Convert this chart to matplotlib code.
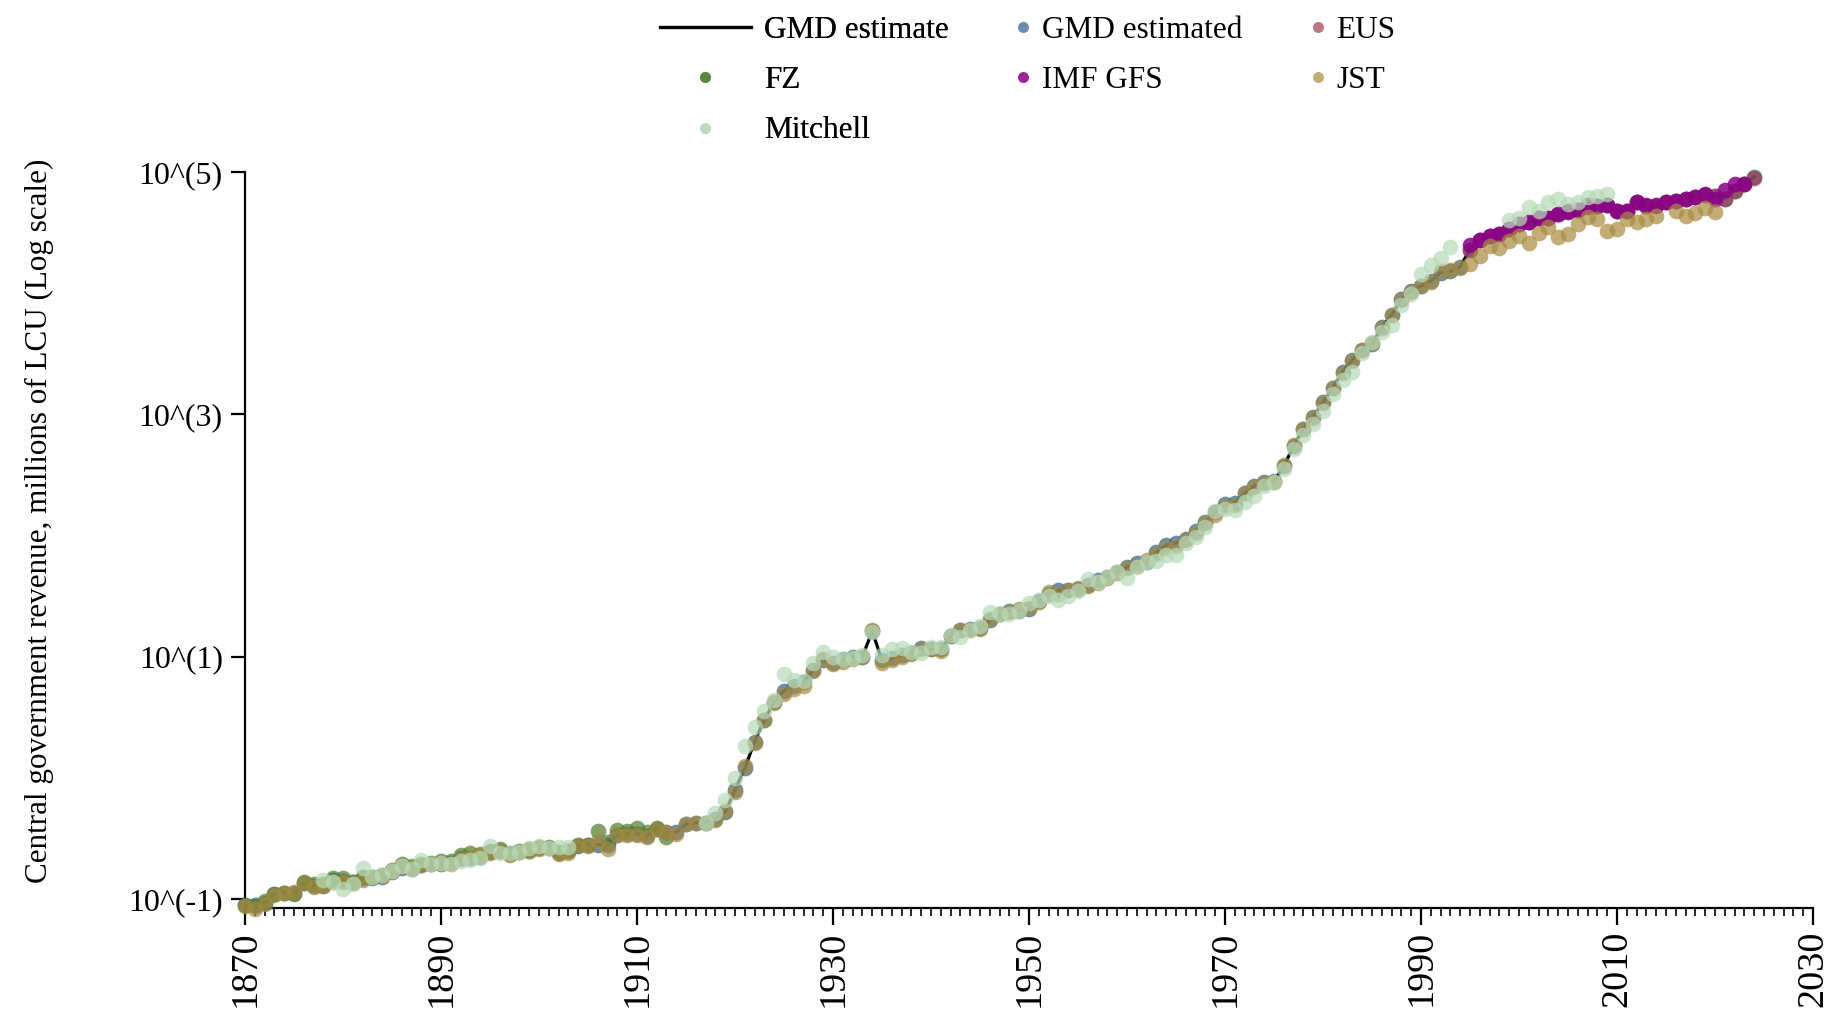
import numpy as np
import matplotlib
matplotlib.use('Agg')
import matplotlib.pyplot as plt
from matplotlib.ticker import MultipleLocator, NullLocator

plt.rcParams['font.family'] = ['Liberation Serif', 'DejaVu Serif']

# values are log10(millions of LCU)
years = list(range(1870, 2025))
gmd_log10 = [
    -1.05, -1.05, -1.03, -0.96, -0.95, -0.95, -0.87, -0.89, -0.89, -0.84,
    -0.85, -0.86, -0.83, -0.83, -0.82, -0.78, -0.74, -0.75, -0.72, -0.71,
    -0.71, -0.70, -0.66, -0.66, -0.65, -0.61, -0.60, -0.63, -0.61, -0.60,
    -0.58, -0.58, -0.62, -0.60, -0.56, -0.55, -0.55, -0.55, -0.47, -0.46,
    -0.46, -0.48, -0.42, -0.45, -0.45, -0.38, -0.37, -0.37, -0.34, -0.28,
    -0.10, 0.08, 0.30, 0.48, 0.63, 0.72, 0.76, 0.79, 0.89, 0.97,
    0.95, 0.98, 1.00, 1.00, 1.21, 0.97, 0.99, 1.01, 1.03, 1.07,
    1.06, 1.06, 1.17, 1.22, 1.23, 1.24, 1.30, 1.35, 1.38, 1.38,
    1.39, 1.46, 1.52, 1.55, 1.55, 1.56, 1.59, 1.63, 1.66, 1.70,
    1.74, 1.77, 1.78, 1.86, 1.92, 1.94, 1.97, 2.04, 2.11, 2.19,
    2.26, 2.27, 2.35, 2.41, 2.44, 2.45, 2.57, 2.74, 2.88, 2.98,
    3.10, 3.22, 3.35, 3.45, 3.53, 3.58, 3.72, 3.82, 3.95, 4.02,
    4.06, 4.10, 4.17, 4.18, 4.22, 4.36, 4.44, 4.47, 4.49, 4.53,
    4.57, 4.59, 4.62, 4.62, 4.65, 4.68, 4.69, 4.73, 4.72, 4.73,
    4.68, 4.68, 4.75, 4.72, 4.73, 4.75, 4.76, 4.78, 4.79, 4.81,
    4.80, 4.78, 4.84, 4.90, 4.96,
]

# GMD estimated points sit on the estimate line
gmd_est_years = years
gmd_est_log10 = gmd_log10

eus_years = list(range(1995, 2025))
eus_log10 = [
    4.36, 4.44, 4.47, 4.49, 4.53, 4.57, 4.59, 4.62, 4.62, 4.65,
    4.68, 4.69, 4.73, 4.72, 4.73, 4.68, 4.68, 4.75, 4.72, 4.73,
    4.75, 4.76, 4.78, 4.79, 4.81, 4.80, 4.78, 4.84, 4.90, 4.95,
]

fz_years = list(range(1870, 1914))
fz_log10 = [
    -1.05, -1.06, -1.02, -0.96, -0.95, -0.96, -0.86, -0.88, -0.88, -0.83,
    -0.83, -0.86, -0.82, -0.82, -0.80, -0.76, -0.71, -0.73, -0.71, -0.70,
    -0.69, -0.69, -0.64, -0.62, -0.63, -0.60, -0.59, -0.62, -0.60, -0.59,
    -0.57, -0.57, -0.61, -0.60, -0.55, -0.55, -0.44, -0.53, -0.43, -0.44,
    -0.41, -0.45, -0.41, -0.49,
]

imf_years = list(range(1995, 2024))
imf_log10 = [
    4.40, 4.44, 4.47, 4.49, 4.53, 4.57, 4.59, 4.62, 4.62, 4.65,
    4.67, 4.69, 4.71, 4.72, 4.73, 4.68, 4.68, 4.75, 4.73, 4.72,
    4.75, 4.76, 4.78, 4.79, 4.82, 4.78, 4.85, 4.90, 4.90,
]

jst_years = list(range(1870, 2021))
jst_log10 = [
    -1.06, -1.08, -1.04, -0.97, -0.95, -0.94, -0.87, -0.90, -0.89, -0.86,
    -0.86, -0.87, -0.84, -0.82, -0.81, -0.77, -0.73, -0.74, -0.72, -0.71,
    -0.70, -0.71, -0.67, -0.65, -0.64, -0.62, -0.60, -0.64, -0.61, -0.60,
    -0.59, -0.58, -0.63, -0.62, -0.55, -0.56, -0.52, -0.59, -0.47, -0.47,
    -0.47, -0.49, -0.42, -0.45, -0.46, -0.38, -0.37, -0.37, -0.35, -0.27,
    -0.12, 0.10, 0.29, 0.48, 0.62, 0.69, 0.73, 0.76, 0.88, 0.98,
    0.94, 0.96, 0.98, 1.00, 1.22, 0.95, 0.97, 1.00, 1.02, 1.06,
    1.06, 1.05, 1.17, 1.22, 1.22, 1.23, 1.31, 1.35, 1.37, 1.39,
    1.40, 1.45, 1.53, 1.52, 1.55, 1.57, 1.58, 1.61, 1.65, 1.69,
    1.73, 1.75, 1.80, 1.85, 1.90, 1.91, 1.96, 2.02, 2.10, 2.17,
    2.24, 2.25, 2.35, 2.40, 2.43, 2.44, 2.58, 2.75, 2.88, 2.97,
    3.09, 3.22, 3.34, 3.44, 3.53, 3.59, 3.71, 3.82, 3.94, 4.01,
    4.06, 4.09, 4.18, 4.19, 4.21, 4.24, 4.31, 4.39, 4.37, 4.43,
    4.47, 4.41, 4.50, 4.55, 4.46, 4.49, 4.57, 4.63, 4.61, 4.51,
    4.53, 4.61, 4.59, 4.61, 4.64, np.nan, 4.68, 4.64, 4.66, 4.70,
    4.67,
]

mitchell_years = list(range(1878, 1904)) + list(range(1917, 1994)) + list(range(1999, 2010))
mitchell_log10 = [
    -0.84, -0.86, -0.92, -0.88, -0.74, -0.82, -0.80, -0.77, -0.73, -0.75,
    -0.68, -0.71, -0.70, -0.71, -0.69, -0.68, -0.66, -0.56, -0.62, -0.62,
    -0.61, -0.58, -0.56, -0.58, -0.57, -0.57,
    -0.37, -0.29, -0.18, 0.00, 0.26, 0.42, 0.55, 0.64, 0.86, 0.81,
    0.80, 0.95, 1.04, 1.00, 0.98, 0.99, 1.01, 1.20, 1.01, 1.06,
    1.07, 1.04, 1.03, 1.08, 1.08, 1.18, 1.16, 1.22, 1.25, 1.37,
    1.35, 1.35, 1.38, 1.44, 1.47, 1.50, 1.47, 1.50, 1.54, 1.64,
    1.62, 1.66, 1.70, 1.65, 1.74, 1.78, 1.79, 1.84, 1.84, 1.94,
    1.99, 2.07, 2.20, 2.22, 2.21, 2.28, 2.33, 2.41, 2.44, 2.55,
    2.71, 2.83, 2.92, 3.03, 3.17, 3.28, 3.35, 3.51, 3.60, 3.68,
    3.74, 3.90, 3.99, 4.16, 4.23, 4.29, 4.38,
    4.60, 4.62, 4.71, 4.68, 4.75, 4.78, 4.74, 4.75, 4.79, 4.80, 4.82,
]

ytick_vals = [0.1, 10, 1000, 100000]
ytick_labels = ['10^(-1)', '10^(1)', '10^(3)', '10^(5)']
xtick_vals = list(range(1870, 2031, 20))

W, H = 1837, 1014
fig = plt.figure(figsize=(W / 100, H / 100), dpi=100)
ax = fig.add_axes([245 / W, 1 - 908 / H, 1568 / W, 736 / H])

line, = ax.plot(years, 10 ** np.array(gmd_log10), color='black', lw=2.3, zorder=2)

ms = 11.3
series = [
    ('GMD estimated', gmd_est_years, gmd_est_log10, '#2c6390', 0.72),
    ('EUS', eus_years, eus_log10, '#a23b4a', 0.7),
    ('FZ', fz_years, fz_log10, '#4d7a2c', 0.7),
    ('IMF GFS', imf_years, imf_log10, '#8a0088', 0.85),
    ('JST', jst_years, jst_log10, '#a88b40', 0.7),
    ('Mitchell', mitchell_years, mitchell_log10, '#b7dab9', 0.72),
]
handles = {}
for name, xs, ys, col, a in series:
    h, = ax.plot(xs, 10 ** np.array(ys, dtype=float), 'o', ms=ms, mew=0,
                 color=col, alpha=a, clip_on=False, zorder=3, label=name)
    handles[name] = h

ax.set_yscale('log')
ax.set_ylim(10 ** -1.074, 1e5)
ax.set_xlim(1870, 2030)
ax.set_yticks(ytick_vals)
ax.set_yticklabels(ytick_labels)
ax.yaxis.set_minor_locator(NullLocator())
ax.set_xticks(xtick_vals)
ax.xaxis.set_minor_locator(MultipleLocator(1))

for s in ['top', 'right']:
    ax.spines[s].set_visible(False)
for s in ['left', 'bottom']:
    ax.spines[s].set_linewidth(1.6)

ax.tick_params(axis='y', which='major', length=10, width=1.6, pad=6, labelsize=23)
ax.tick_params(axis='x', which='major', length=12, width=1.6, pad=4,
               labelsize=27.5, labelrotation=90)
ax.tick_params(axis='x', which='minor', length=6, width=1.2)

ax.set_ylabel('Central government revenue, millions of LCU (Log scale)', fontsize=22.4)
ax.yaxis.set_label_coords(-0.122, 0.526)

# legend, first column has the long line key
leg_kw = dict(frameon=False, fontsize=22.5, labelspacing=0.68, borderpad=0,
              borderaxespad=0, markerscale=0.7)
leg1 = fig.legend([line, handles['FZ'], handles['Mitchell']],
                  ['GMD estimate', 'FZ', 'Mitchell'],
                  loc='upper left', bbox_to_anchor=(660 / W, 1 - 16 / H),
                  handlelength=2.9, handletextpad=0.42, **leg_kw)
leg2 = fig.legend([handles['GMD estimated'], handles['IMF GFS'],
                   handles['EUS'], handles['JST']],
                  ['GMD estimated', 'IMF GFS', 'EUS', 'JST'],
                  ncol=2, loc='upper left', bbox_to_anchor=(1014 / W, 1 - 16 / H),
                  handlelength=0.6, handletextpad=0.3, columnspacing=2.1, **leg_kw)
fig.add_artist(leg1)

fig.savefig('out.png', dpi=100)
